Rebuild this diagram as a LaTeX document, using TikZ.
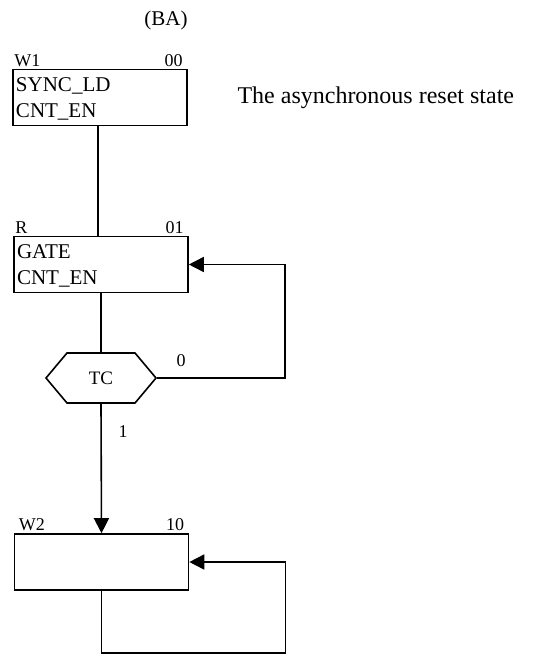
\documentclass[tikz,border=0pt]{standalone}
\usepackage{fontspec}
\setmainfont{Liberation Serif}
\usetikzlibrary{arrows.meta, positioning, shapes.symbols}
\tikzset{
	statebox/.style ={rectangle, draw=black, line width=1.6pt, minimum width=174pt, minimum height=56pt, align=left, text width=168pt, text height=17pt, inner sep=2pt, font=\fontsize{21}{25.5}\selectfont},
	cond/.style     ={signal, signal to=west and east, signal pointer angle=100, draw=black, line width=1.6pt, minimum width=110pt, minimum height=50pt, inner sep=0pt, font=\fontsize{19}{22}\selectfont},
	tag/.style      ={inner sep=2pt, font=\fontsize{18}{22}\selectfont},
	flow/.style     ={line width=1.6pt},
	flowarrow/.style={-{Triangle[length=15pt, width=15pt]}, line width=1.6pt},
}

\begin{document}
\begin{tikzpicture}[x=1pt, y=-1pt]
	\useasboundingbox (0,0) rectangle (545,656);
	\node[tag, font=\fontsize{21}{24}\selectfont] (ba) at (166,20) {(BA)};
	\node[statebox, label={[tag, anchor=south west]north west:W1}, label={[tag, anchor=south east, xshift=-3pt]north east:00}] (w1) at (100,97.5) {SYNC\_LD\\CNT\_EN};
	\node[anchor=west, font=\fontsize{24}{28}\selectfont] (note) at (234,98) {The asynchronous reset state};
	\node[statebox, label={[tag, anchor=south west]north west:R}, label={[tag, anchor=south east, xshift=-3pt]north east:01}] (r) at (101,264.5) {GATE\\CNT\_EN};
	\node[cond] (tc) at (101,378) {TC};
	\node[statebox, label={[tag, anchor=south west, xshift=3pt]north west:W2}, label={[tag, anchor=south east, xshift=-3pt]north east:10}] (w2) at (101.5,562) {};
	\node[tag] (zero) at (181,361) {0};
	\node[tag] (one) at (123,432) {1};
	\draw[flow] ([xshift=-2pt]w1.south) -- ([xshift=-3pt]r.north);
	\draw[flow] (r.south) -- (tc.north);
	\draw[flowarrow] (tc.east) -| ([xshift=96pt]r.east) -- (r.east);
	\draw[flowarrow] (tc.south) -- (w2.north);
	\draw[flowarrow] (w2.south) -- ++(0,62) -| ([xshift=96pt]w2.east) -- (w2.east);
\end{tikzpicture}
\end{document}
